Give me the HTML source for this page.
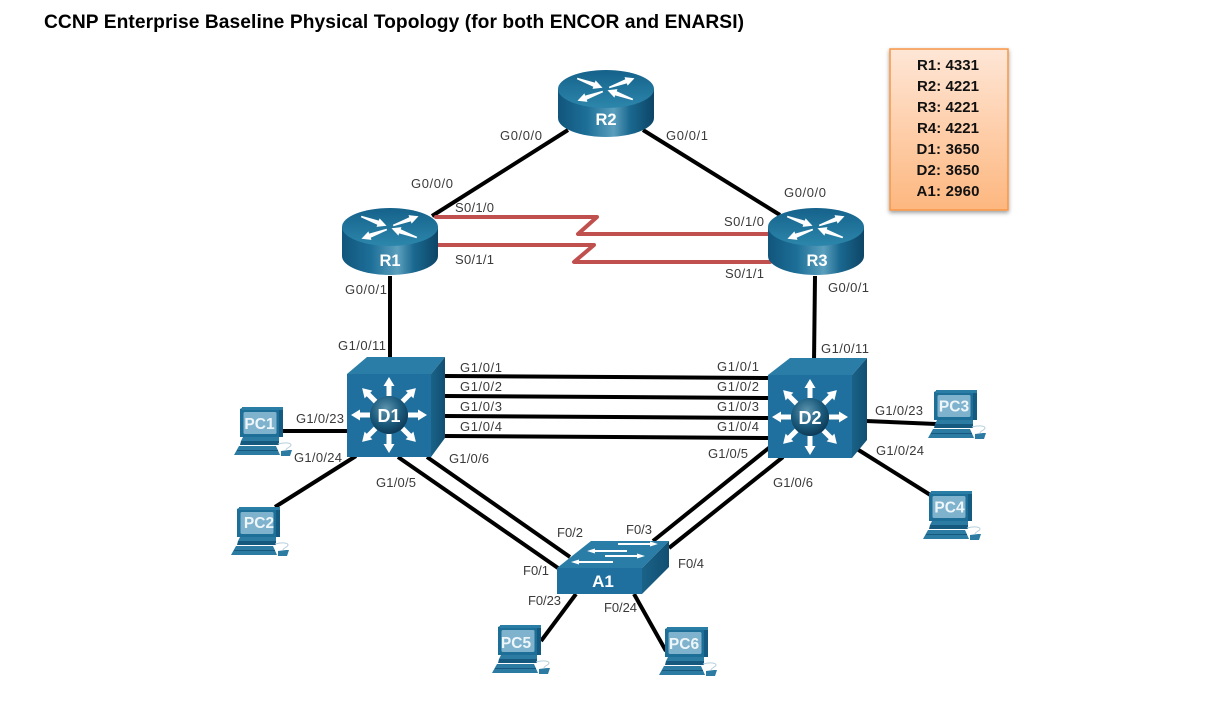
<!DOCTYPE html>
<html>
<head>
<meta charset="utf-8">
<title>CCNP Enterprise Baseline Physical Topology</title>
<style>
html,body{margin:0;padding:0;background:#fff;width:1223px;height:707px;overflow:hidden}
svg{display:block}
.t{font-family:"Liberation Sans",sans-serif;font-weight:bold;font-size:19.2px;fill:#000}
.l{font-family:"Liberation Sans",sans-serif;font-size:13px;fill:#3a3a3a}
.n{font-family:"Liberation Sans",sans-serif;font-weight:bold;fill:#fff;text-anchor:middle}
.p{font-family:"Liberation Sans",sans-serif;font-weight:bold;font-size:15.5px;fill:#eef6fa;text-anchor:middle}
.b{font-family:"Liberation Sans",sans-serif;font-weight:bold;font-size:15px;fill:#111;text-anchor:middle}
.k{stroke:#000;stroke-width:4;fill:none}
.s{stroke:#c0504d;stroke-width:4;fill:none;stroke-linejoin:round;stroke-linecap:round}
</style>
</head>
<body>
<svg width="1223" height="707" viewBox="0 0 1223 707" xmlns="http://www.w3.org/2000/svg">
<defs>
<linearGradient id="rb" x1="0" x2="1" y1="0" y2="0">
<stop offset="0" stop-color="#11557c"/><stop offset=".3" stop-color="#1d6f98"/><stop offset=".58" stop-color="#5b9fbd"/><stop offset=".75" stop-color="#1a6890"/><stop offset="1" stop-color="#0d4566"/>
</linearGradient>
<linearGradient id="rt" x1="0" x2="0" y1="0" y2="1">
<stop offset="0" stop-color="#15628b"/><stop offset="1" stop-color="#2c86ab"/>
</linearGradient>
<radialGradient id="sp" cx=".42" cy=".35" r=".7">
<stop offset="0" stop-color="#5d95ae"/><stop offset=".55" stop-color="#1d5c7e"/><stop offset="1" stop-color="#0b3550"/>
</radialGradient>
<linearGradient id="box" x1="0" x2="0" y1="0" y2="1">
<stop offset="0" stop-color="#fee6d6"/><stop offset="1" stop-color="#fdb77f"/>
</linearGradient>
<linearGradient id="side" x1="0" x2="1" y1="0" y2="0">
<stop offset="0" stop-color="#1a6288"/><stop offset="1" stop-color="#114f72"/>
</linearGradient>
<filter id="sh" x="-20%" y="-20%" width="140%" height="140%">
<feDropShadow dx="0" dy="2" stdDeviation="2" flood-color="#000" flood-opacity=".4"/>
</filter>
<g id="rarrow"><path d="M-1-2.200L-19-0.800V0.800L-1 2.200V4.500L8 0L-1-4.500Z" fill="#fff"/></g>
<g id="router">
<path d="M-48 0V29A48 19 0 0 0 48 29V0Z" fill="url(#rb)"/>
<ellipse cx="0" cy="0" rx="48" ry="19" fill="url(#rt)"/>
<use href="#rarrow" transform="translate(-11,-4) rotate(20)"/>
<use href="#rarrow" transform="translate(21,-8) rotate(-20)"/>
<use href="#rarrow" transform="translate(-21,9) rotate(160)"/>
<use href="#rarrow" transform="translate(9,4) rotate(200)"/>
</g>
<g id="sarrow"><path d="M-2.500 -19H2.500V-29H5.500L0 -38L-5.500 -29H-2.500Z" fill="#fff"/></g>
<g id="star">
<use href="#sarrow"/>
<use href="#sarrow" transform="rotate(45)"/>
<use href="#sarrow" transform="rotate(90)"/>
<use href="#sarrow" transform="rotate(135)"/>
<use href="#sarrow" transform="rotate(180)"/>
<use href="#sarrow" transform="rotate(225)"/>
<use href="#sarrow" transform="rotate(270)"/>
<use href="#sarrow" transform="rotate(315)"/>
<circle r="19" fill="url(#sp)"/>
</g>
<g id="pc">
<path d="M6 2L10 0H49V30H6Z" fill="#1d6f98"/>
<path d="M45 1H49V30H45Z" fill="#155a80"/>
<rect x="8" y="0" width="41" height="3" fill="#2a7ea6"/>
<rect x="9.500" y="5" width="33" height="22" rx="1.500" fill="#7eb2cd"/>
<path d="M9 30H45V34H7Z" fill="#2b7ba2"/>
<path d="M7 34H45V38H6Z" fill="#15597f"/>
<path d="M5 39H42L46 48H0Z" fill="#2b7ba2"/>
<path d="M3 43.500H44" stroke="#15597f" stroke-width="1"/>
<path d="M47 44L55 43L58 43L56 49H47Z" fill="#2b7ba2"/>
<path d="M44 37C52 35 57 36 57 38C57 40 52 41 52 43" fill="none" stroke="#b6cfdc" stroke-width="1"/>
</g>
</defs>

<text class="t" x="44" y="28" textLength="700" lengthAdjust="spacing">CCNP Enterprise Baseline Physical Topology (for both ENCOR and ENARSI)</text>

<!-- Ethernet links -->
<path class="k" d="M568 130L432 216"/>
<path class="k" d="M643 130L780 215"/>
<path class="k" d="M390 276V357"/>
<path class="k" d="M815 276L814 362"/>
<path class="k" d="M445 376L768 378"/>
<path class="k" d="M445 396L768 398"/>
<path class="k" d="M445 416L768 418"/>
<path class="k" d="M445 436L768 438"/>
<path class="k" d="M283 431H347"/>
<path class="k" d="M275 507L356 456"/>
<path class="k" d="M398 457L558 568"/>
<path class="k" d="M427 457L570 557"/>
<path class="k" d="M653 541L770 447"/>
<path class="k" d="M669 548L783 457"/>
<path class="k" d="M866 421L936 424"/>
<path class="k" d="M857 449L932 496"/>
<path class="k" d="M576 594L541 641"/>
<path class="k" d="M634 594L666 651"/>

<!-- Serial links -->
<path class="s" d="M436 217H597L578 234H770"/>
<path class="s" d="M436 245H594L574 262H770"/>

<!-- Routers -->
<use href="#router" x="390" y="227"/>
<use href="#router" x="606" y="89"/>
<use href="#router" x="816" y="227"/>
<text class="n" x="390" y="266" font-size="16.500">R1</text>
<text class="n" x="606" y="125" font-size="16.500">R2</text>
<text class="n" x="817" y="266" font-size="16.500">R3</text>

<!-- D1 -->
<path d="M347 374L367 357H445L431 374Z" fill="#2a7da6"/>
<path d="M431 374L445 357V438L431 457Z" fill="url(#side)"/>
<rect x="347" y="374" width="84" height="83" fill="#1f709f"/>
<use href="#star" x="389" y="415"/>
<text class="n" x="389" y="422" font-size="18">D1</text>

<!-- D2 -->
<path d="M768 375L790 358H867L852 375Z" fill="#2a7da6"/>
<path d="M852 375L867 358V440L852 458Z" fill="url(#side)"/>
<rect x="768" y="375" width="84" height="83" fill="#1f709f"/>
<use href="#star" x="810" y="417"/>
<text class="n" x="810" y="424" font-size="18">D2</text>

<!-- A1 -->
<path d="M557 568L591 541H669L642 568Z" fill="#2a7da6"/>
<path d="M642 568L669 541V567L642 594Z" fill="url(#side)"/>
<rect x="557" y="568" width="85" height="26" fill="#1f709f"/>
<g fill="#fff">
<path d="M618 543H650V541.500L658 544L650 546.500V545H618Z"/>
<path d="M627 550H595V548.500L587 551L595 553.500V552H627Z"/>
<path d="M605 555H637V553.500L645 556L637 558.500V557H605Z"/>
<path d="M613 561H579V559.500L571 562L579 564.500V563H613Z"/>
</g>
<text class="n" x="603" y="587" font-size="17">A1</text>

<!-- PCs -->
<use href="#pc" x="234" y="407"/><text class="p" x="259.500" y="429">PC1</text>
<use href="#pc" x="231" y="507"/><text class="p" x="259" y="528">PC2</text>
<use href="#pc" x="928" y="390"/><text class="p" x="954" y="411.500">PC3</text>
<use href="#pc" x="923" y="491"/><text class="p" x="949.500" y="512.500">PC4</text>
<use href="#pc" x="492" y="625"/><text class="p" x="516" y="648">PC5</text>
<use href="#pc" x="659" y="627"/><text class="p" x="684" y="649">PC6</text>

<!-- Interface labels -->
<g>
<text class="l" x="500" y="140" textLength="42">G0/0/0</text>
<text class="l" x="666" y="140" textLength="42">G0/0/1</text>
<text class="l" x="411" y="188" textLength="42">G0/0/0</text>
<text class="l" x="455" y="212" textLength="39">S0/1/0</text>
<text class="l" x="784" y="197" textLength="42">G0/0/0</text>
<text class="l" x="724" y="226" textLength="40">S0/1/0</text>
<text class="l" x="455" y="264" textLength="39">S0/1/1</text>
<text class="l" x="725" y="278" textLength="39">S0/1/1</text>
<text class="l" x="345" y="294" textLength="42">G0/0/1</text>
<text class="l" x="828" y="292" textLength="41">G0/0/1</text>
<text class="l" x="338" y="350" textLength="48">G1/0/11</text>
<text class="l" x="821" y="353" textLength="48">G1/0/11</text>
<text class="l" x="460" y="372" textLength="42">G1/0/1</text>
<text class="l" x="460" y="391" textLength="42">G1/0/2</text>
<text class="l" x="460" y="411" textLength="42">G1/0/3</text>
<text class="l" x="460" y="431" textLength="42">G1/0/4</text>
<text class="l" x="717" y="371" textLength="42">G1/0/1</text>
<text class="l" x="717" y="391" textLength="42">G1/0/2</text>
<text class="l" x="717" y="411" textLength="42">G1/0/3</text>
<text class="l" x="717" y="431" textLength="42">G1/0/4</text>
<text class="l" x="296" y="423" textLength="48">G1/0/23</text>
<text class="l" x="875" y="415" textLength="48">G1/0/23</text>
<text class="l" x="294" y="462" textLength="48">G1/0/24</text>
<text class="l" x="876" y="455" textLength="48">G1/0/24</text>
<text class="l" x="376" y="487" textLength="40">G1/0/5</text>
<text class="l" x="708" y="458" textLength="40">G1/0/5</text>
<text class="l" x="449" y="463" textLength="40">G1/0/6</text>
<text class="l" x="773" y="487" textLength="40">G1/0/6</text>
<text class="l" x="557" y="537" textLength="26">F0/2</text>
<text class="l" x="626" y="534" textLength="26">F0/3</text>
<text class="l" x="523" y="575" textLength="26">F0/1</text>
<text class="l" x="678" y="568" textLength="26">F0/4</text>
<text class="l" x="528" y="605" textLength="33">F0/23</text>
<text class="l" x="604" y="612" textLength="33">F0/24</text>
</g>

<!-- Model box -->
<rect x="890" y="49" width="118" height="161" fill="url(#box)" stroke="#f79646" stroke-width="1.500" filter="url(#sh)"/>
<text class="b" x="948" y="70" textLength="62">R1: 4331</text>
<text class="b" x="948" y="91" textLength="62">R2: 4221</text>
<text class="b" x="948" y="112" textLength="62">R3: 4221</text>
<text class="b" x="948" y="133" textLength="62">R4: 4221</text>
<text class="b" x="948" y="154" textLength="63">D1: 3650</text>
<text class="b" x="948" y="175" textLength="63">D2: 3650</text>
<text class="b" x="948" y="196" textLength="63">A1: 2960</text>
</svg>
</body>
</html>
